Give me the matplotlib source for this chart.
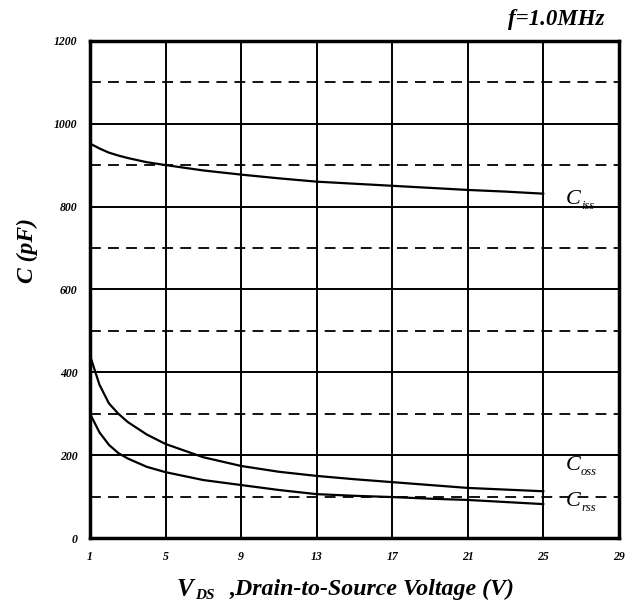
import numpy as np
import matplotlib.pyplot as plt

plt.switch_backend('Agg')

vds = [1, 1.5, 2, 2.5, 3, 4, 5, 7, 9, 11, 13, 15, 17, 19, 21, 23, 25]
ciss = [952, 940, 930, 923, 917, 907, 900, 887, 877, 868, 860, 855, 850, 845, 840, 836, 831]
coss = [440, 370, 325, 300, 280, 250, 227, 195, 174, 160, 150, 142, 135, 128, 121, 117, 113]
crss = [300, 255, 225, 205, 192, 172, 159, 140, 128, 116, 106, 102, 99, 95, 92, 87, 82]

xticks = [1, 5, 9, 13, 17, 21, 25, 29]
yticks = [0, 200, 400, 600, 800, 1000, 1200]
ydash = [100, 300, 500, 700, 900, 1100]

serif = 'Liberation Serif'

fig = plt.figure(figsize=(6.34, 6.08), dpi=100)
ax = fig.add_axes([0.142, 0.115, 0.834, 0.818])

ax.set_xlim(1, 29)
ax.set_ylim(0, 1200)
ax.set_xticks(xticks)
ax.set_yticks(yticks)
ax.set_xticklabels([str(t) for t in xticks], fontfamily=serif, fontstyle='italic',
                   fontweight='bold', fontsize=8.5)
ax.set_yticklabels([str(t) for t in yticks], fontfamily=serif, fontstyle='italic',
                   fontweight='bold', fontsize=8.5)
ax.tick_params(length=0, pad=9)

# grid: solid on ticks, dashed on the half steps
for x in xticks[1:-1]:
    ax.axvline(x, color='black', lw=1.4, zorder=1)
for y in yticks[1:-1]:
    ax.axhline(y, color='black', lw=1.4, zorder=1)
for y in ydash:
    ax.axhline(y, color='black', lw=1.3, ls=(0, (6, 4)), zorder=1)

for sp in ax.spines.values():
    sp.set_linewidth(2.5)

ax.plot(vds, ciss, color='black', lw=1.6, zorder=3)
ax.plot(vds, coss, color='black', lw=1.6, zorder=3)
ax.plot(vds, crss, color='black', lw=1.6, zorder=3)

labels = [('iss', 795), ('oss', 152), ('rss', 66)]
for sub, yb in labels:
    ax.text(26.2, yb, 'C', fontsize=16, fontfamily=serif, fontstyle='italic', va='bottom')
    ax.text(27.0, yb - 8, sub, fontsize=9, fontfamily=serif, fontstyle='italic', va='bottom')

fig.text(0.878, 0.968, 'f=1.0MHz', fontsize=16.5, fontfamily=serif, fontstyle='italic',
         fontweight='bold', ha='center', va='center')
fig.text(0.043, 0.588, 'C (pF)', fontsize=17, fontfamily=serif, fontstyle='italic',
         fontweight='bold', rotation=90, ha='center', va='center')
fig.text(0.278, 0.03, 'V', fontsize=18, fontfamily=serif, fontstyle='italic',
         fontweight='bold', ha='left', va='center')
fig.text(0.308, 0.02, 'DS', fontsize=11, fontfamily=serif, fontstyle='italic',
         fontweight='bold', ha='left', va='center')
fig.text(0.362, 0.03, ',Drain-to-Source Voltage (V)', fontsize=17.2, fontfamily=serif,
         fontstyle='italic', fontweight='bold', ha='left', va='center')

fig.savefig('out.png', dpi=100)
